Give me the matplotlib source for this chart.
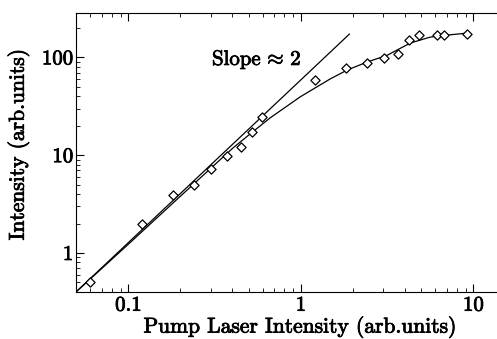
import matplotlib
matplotlib.use("Agg")
import matplotlib.pyplot as plt
import matplotlib.patheffects as pe

plt.rcParams['font.family'] = ['cmr10', 'DejaVu Serif']
plt.rcParams['mathtext.fontset'] = 'cm'
plt.rcParams['axes.unicode_minus'] = False

# measured points (diamonds)
pump = [0.060, 0.12, 0.181, 0.239, 0.301, 0.372, 0.449, 0.519, 0.598,
        1.21, 1.82, 2.42, 3.04, 3.65, 4.26, 4.86, 6.14, 6.79, 9.23]
signal = [0.50, 1.99, 3.94, 4.98, 7.25, 9.9, 12.2, 17.2, 24.8,
          58.2, 78.3, 88.1, 98.4, 108, 149, 170, 170, 169, 174]

# fitted curve
fit_x = [0.0502, 0.1, 0.2, 0.3, 0.405, 0.508, 0.662, 0.989, 1.476, 1.858,
         2.42, 3.16, 4.30, 5.61, 7.04, 9.21]
fit_y = [0.406, 1.23, 3.80, 7.33, 11.9, 16.5, 24.0, 39.4, 60.1, 74.3,
         89.6, 105, 140, 161, 169, 177]

# slope ~2 reference line
slope_x = [0.0502, 1.91]
slope_y = [0.406, 173]

xticks = [0.1, 1, 10]
xtick_labels = ["0.1", "1", "10"]
yticks = [1, 10, 100]
ytick_labels = ["1", "10", "100"]

bold = [pe.withStroke(linewidth=0.6, foreground="black")]

fig = plt.figure(figsize=(4.97, 3.39), dpi=100)
ax = fig.add_axes([0.153, 0.139, 0.847, 0.823])

ax.plot(slope_x, slope_y, color="black", lw=0.9)
ax.plot(fit_x, fit_y, color="black", lw=0.9)
ax.scatter(pump, signal, marker="D", s=22, facecolors="white",
           edgecolors="black", linewidths=0.9, zorder=3)

ax.set_xscale("log")
ax.set_yscale("log")
ax.set_xlim(0.0497, 13.7)
ax.set_ylim(0.40, 285)

ax.set_xticks(xticks, xtick_labels)
ax.set_yticks(yticks, ytick_labels)
ax.tick_params(which="both", direction="in", top=True, right=False,
               labelsize=15)
ax.tick_params(axis="y", pad=2)
ax.tick_params(which="major", length=6, width=0.8)
ax.tick_params(which="minor", length=3, width=0.6)
ax.spines["right"].set_visible(False)
for lab in ax.get_xticklabels() + ax.get_yticklabels():
    lab.set_path_effects(bold)

ax.text(0.555, 94, "Slope$\\,\\approx\\,$2", fontsize=15, ha="center",
        va="center", path_effects=bold)

ax.set_xlabel("Pump Laser Intensity (arb.units)", fontsize=15.5,
              path_effects=bold)
ax.set_ylabel("Intensity (arb.units)", fontsize=15.5, path_effects=bold)
ax.xaxis.set_label_coords(0.534, -0.085)
ax.yaxis.set_label_coords(-0.11, 0.53)

fig.savefig("out.png", dpi=100)
